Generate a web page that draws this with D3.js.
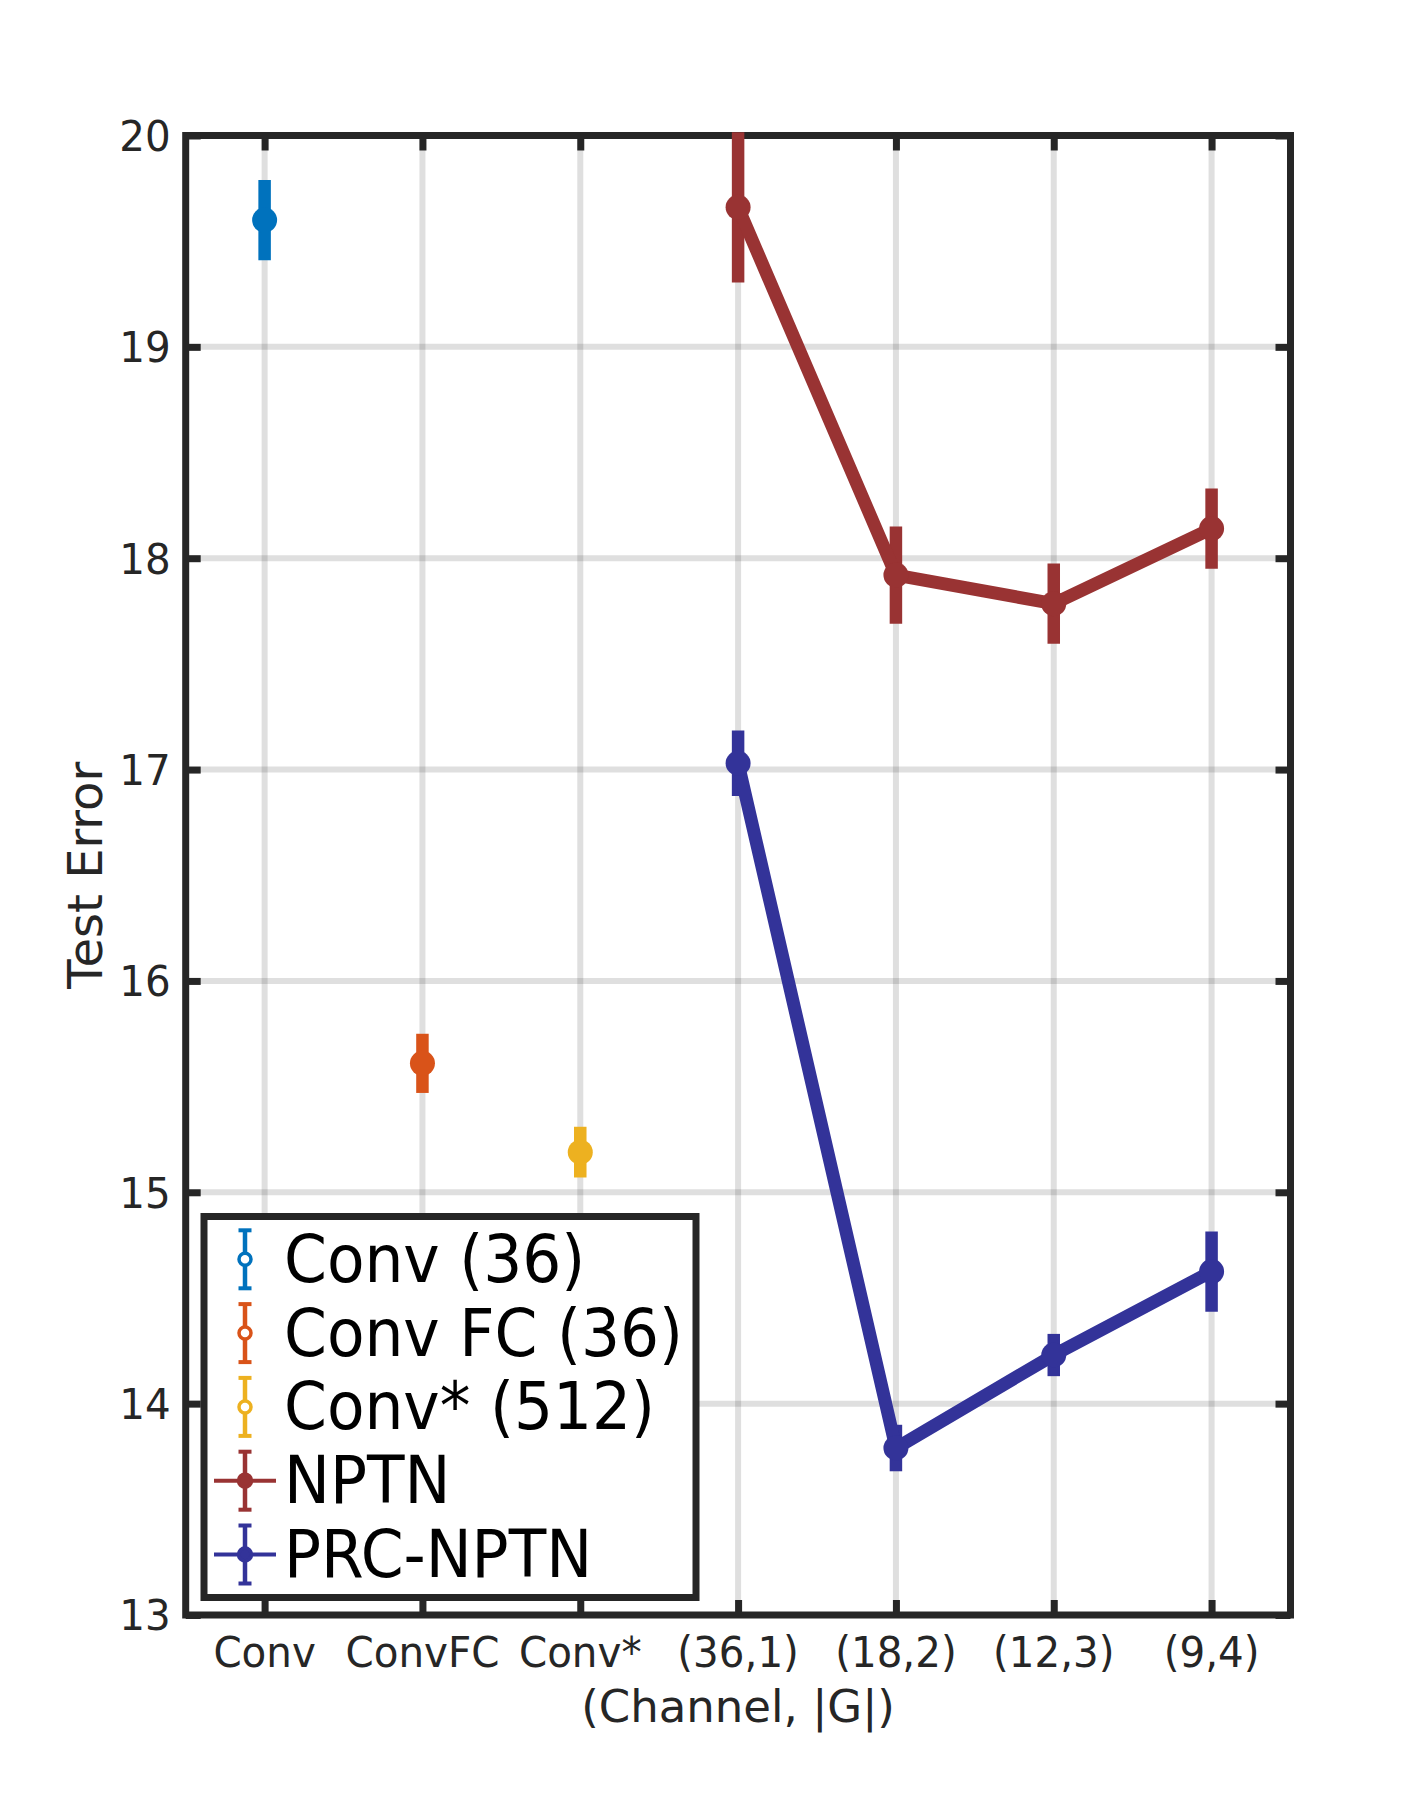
<!DOCTYPE html>
<html>
<head>
<meta charset="utf-8">
<script src="https://d3js.org/d3.v7.min.js"></script>
<style>
  body { margin: 0; background: #fff; }
  text { font-family: "DejaVu Sans", sans-serif; }
</style>
</head>
<body>
<div id="chart"></div>
<script>
// categories on the x axis
var categories = ["Conv", "ConvFC", "Conv*", "(36,1)", "(18,2)", "(12,3)", "(9,4)"];
var yTicks = [13, 14, 15, 16, 17, 18, 19, 20];

// single point baselines
var convMean = [19.60], convErr = [0.19];
var convFcMean = [15.61], convFcErr = [0.14];
var convStarMean = [15.19], convStarErr = [0.12];

// NPTN style models at (Channel, |G|)
var groupCats = ["(36,1)", "(18,2)", "(12,3)", "(9,4)"];
var nptnMean = [19.66, 17.92, 17.785, 18.14];
var nptnErr = [0.355, 0.23, 0.19, 0.19];
var prcMean = [17.03, 13.79, 14.23, 14.625];
var prcErr = [0.155, 0.11, 0.10, 0.19];

var legendLabels = ["Conv (36)", "Conv FC (36)", "Conv* (512)", "NPTN", "PRC-NPTN"];

var series = [
  {name: legendLabels[0], cats: ["Conv"], mean: convMean, err: convErr, color: "#0072BD", line: false},
  {name: legendLabels[1], cats: ["ConvFC"], mean: convFcMean, err: convFcErr, color: "#D95319", line: false},
  {name: legendLabels[2], cats: ["Conv*"], mean: convStarMean, err: convStarErr, color: "#EDB120", line: false},
  {name: legendLabels[3], cats: groupCats, mean: nptnMean, err: nptnErr, color: "#993333", line: true},
  {name: legendLabels[4], cats: groupCats, mean: prcMean, err: prcErr, color: "#333399", line: true}
];

var svgWidth = 1425, svgHeight = 1815;
// plot box edges (window.top is reserved, so no "top" here)
var plotL = 185.7, plotR = 1290.5, plotT = 135.5, plotB = 1615;
var axisColor = "#262626";
// the original text is a bit narrow, squeeze it horizontally
var squeeze = 0.94;

var svg = d3.select("#chart").append("svg")
  .attr("width", svgWidth)
  .attr("height", svgHeight)
  .style("background", "#fff");

var xScale = d3.scalePoint()
  .domain(categories)
  .range([plotL, plotR])
  .padding(0.5);

var yScale = d3.scaleLinear()
  .domain([13, 20])
  .range([plotB, plotT]);

// grid lines (translucent so the crossings come out darker)
var grid = svg.append("g");
grid.selectAll(".gx")
  .data(categories)
  .enter()
  .append("line")
  .attr("x1", d => xScale(d))
  .attr("x2", d => xScale(d))
  .attr("y1", plotT)
  .attr("y2", plotB)
  .attr("stroke", "rgba(38,38,38,0.15)")
  .attr("stroke-width", 6);
grid.selectAll(".gy")
  .data(yTicks.slice(1, -1))
  .enter()
  .append("line")
  .attr("x1", plotL)
  .attr("x2", plotR)
  .attr("y1", d => yScale(d))
  .attr("y2", d => yScale(d))
  .attr("stroke", "rgba(38,38,38,0.15)")
  .attr("stroke-width", 6);

// axes box with inward ticks on all sides
var axes = svg.append("g");
var tickLen = 15;

var yAxisL = d3.axisRight(yScale).tickValues(yTicks).tickSize(tickLen).tickFormat("");
var yAxisR = d3.axisLeft(yScale).tickValues(yTicks).tickSize(tickLen).tickFormat("");
var xAxisB = d3.axisTop(xScale).tickSize(tickLen).tickFormat("");
var xAxisT = d3.axisBottom(xScale).tickSize(tickLen).tickFormat("");

axes.append("g").attr("transform", `translate(${plotL},0)`).call(yAxisL);
axes.append("g").attr("transform", `translate(${plotR},0)`).call(yAxisR);
axes.append("g").attr("transform", `translate(0,${plotB})`).call(xAxisB);
axes.append("g").attr("transform", `translate(0,${plotT})`).call(xAxisT);
axes.selectAll(".domain").remove();
axes.selectAll(".tick line")
  .attr("stroke", axisColor)
  .attr("stroke-width", 7);

axes.append("rect")
  .attr("x", plotL)
  .attr("y", plotT)
  .attr("width", plotR - plotL)
  .attr("height", plotB - plotT)
  .attr("fill", "none")
  .attr("stroke", axisColor)
  .attr("stroke-width", 7);

// tick labels
svg.append("g").selectAll("text")
  .data(yTicks)
  .enter()
  .append("text")
  .attr("transform", d => `translate(${plotL - 15},${yScale(d)}) scale(${squeeze},1)`)
  .attr("dy", "0.36em")
  .attr("text-anchor", "end")
  .attr("font-size", 43)
  .attr("fill", axisColor)
  .text(d => d);

svg.append("g").selectAll("text")
  .data(categories)
  .enter()
  .append("text")
  .attr("transform", d => `translate(${xScale(d)},1667) scale(${squeeze},1)`)
  .attr("text-anchor", "middle")
  .attr("font-size", 43)
  .attr("fill", axisColor)
  .text(d => d);

// axis titles
svg.append("text")
  .attr("x", (plotL + plotR) / 2)
  .attr("y", 1722)
  .attr("text-anchor", "middle")
  .attr("font-size", 45)
  .attr("fill", axisColor)
  .text("(Channel, |G|)");

svg.append("text")
  .attr("transform", `translate(102,${(plotT + plotB) / 2}) rotate(-90)`)
  .attr("text-anchor", "middle")
  .attr("font-size", 48)
  .attr("fill", axisColor)
  .text("Test Error");

// data: error bars, lines, markers
var plot = svg.append("g");
var lineGen = d3.line()
  .x(d => xScale(d.cat))
  .y(d => yScale(d.mean));

series.forEach(function(s) {
  var pts = s.cats.map((c, i) => ({cat: c, mean: s.mean[i], err: s.err[i]}));
  var g = plot.append("g");

  g.selectAll(".eb")
    .data(pts)
    .enter()
    .append("line")
    .attr("x1", d => xScale(d.cat))
    .attr("x2", d => xScale(d.cat))
    .attr("y1", d => yScale(d.mean - d.err))
    .attr("y2", d => yScale(d.mean + d.err))
    .attr("stroke", s.color)
    .attr("stroke-width", 12.5);

  if (s.line) {
    g.append("path")
      .datum(pts)
      .attr("d", lineGen)
      .attr("fill", "none")
      .attr("stroke", s.color)
      .attr("stroke-width", 13)
      .attr("stroke-linejoin", "round");
  }

  g.selectAll("circle")
    .data(pts)
    .enter()
    .append("circle")
    .attr("cx", d => xScale(d.cat))
    .attr("cy", d => yScale(d.mean))
    .attr("r", 12.5)
    .attr("fill", s.color);
});

// legend
var lgX = 204, lgY = 1216.5, lgW = 492, lgH = 381;
var legend = svg.append("g");
legend.append("rect")
  .attr("x", lgX)
  .attr("y", lgY)
  .attr("width", lgW)
  .attr("height", lgH)
  .attr("fill", "#fff")
  .attr("stroke", axisColor)
  .attr("stroke-width", 7);

var rowY0 = 1259.3, rowStep = 73.8, iconX = 245;
series.forEach(function(s, i) {
  var cy = rowY0 + i * rowStep;
  var item = legend.append("g");
  if (s.line) {
    item.append("line")
      .attr("x1", iconX - 31).attr("x2", iconX + 31)
      .attr("y1", cy).attr("y2", cy)
      .attr("stroke", s.color).attr("stroke-width", 4);
  }
  item.append("line")
    .attr("x1", iconX).attr("x2", iconX)
    .attr("y1", cy - 29).attr("y2", cy + 29)
    .attr("stroke", s.color).attr("stroke-width", 4.5);
  [cy - 29, cy + 29].forEach(function(yy) {
    item.append("line")
      .attr("x1", iconX - 6.5).attr("x2", iconX + 6.5)
      .attr("y1", yy).attr("y2", yy)
      .attr("stroke", s.color).attr("stroke-width", 4);
  });
  item.append("circle")
    .attr("cx", iconX).attr("cy", cy).attr("r", s.line ? 6.5 : 6)
    .attr("fill", s.line ? s.color : "#fff")
    .attr("stroke", s.color).attr("stroke-width", 3.5);
  item.append("text")
    .attr("transform", `translate(284,${cy + 22.5}) scale(0.945,1)`)
    .attr("font-size", 65)
    .attr("fill", "#000")
    .text(s.name);
});
</script>
</body>
</html>
